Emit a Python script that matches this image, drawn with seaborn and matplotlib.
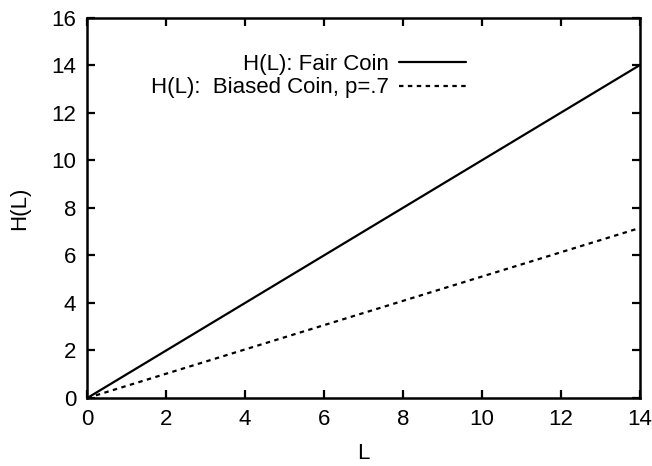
import matplotlib
matplotlib.use('Agg')
import matplotlib.pyplot as plt
import seaborn as sns
import pandas as pd

# values
L = [0, 14]
fair = [0, 14]
biased = [0, 7.15]
labels = ['H(L): Fair Coin', 'H(L):  Biased Coin, p=.7']

sns.set_style('ticks')
plt.rcParams['font.family'] = ['Liberation Sans', 'DejaVu Sans']
plt.rcParams['text.color'] = 'black'
plt.rcParams['axes.labelcolor'] = 'black'
plt.rcParams['xtick.color'] = 'black'
plt.rcParams['ytick.color'] = 'black'
plt.rcParams['axes.edgecolor'] = 'black'

df = pd.DataFrame({
    'L': L + L,
    'H': fair + biased,
    'series': [labels[0]] * len(L) + [labels[1]] * len(L),
})

fig, ax = plt.subplots(figsize=(6.52, 4.66), dpi=100)
sns.lineplot(data=df, x='L', y='H', hue='series', style='series',
             palette=['black', 'black'], dashes=[(None, None), (2, 2)],
             linewidth=1.6, ax=ax)

ax.set_xlim(0, 14)
ax.set_ylim(0, 16)
ax.set_xticks(range(0, 15, 2))
ax.set_yticks(range(0, 17, 2))
ax.set_xlabel('L', fontsize=16, labelpad=9)
ax.set_ylabel('H(L)', fontsize=16, labelpad=15)
ax.tick_params(direction='in', length=6, width=1.6, labelsize=16,
               top=True, right=True)
ax.tick_params(axis='x', pad=8)
ax.tick_params(axis='y', pad=8)
for s in ax.spines.values():
    s.set_linewidth(1.8)
    s.set_visible(True)

leg = ax.legend(loc='upper right', bbox_to_anchor=(0.685, 0.905), frameon=False,
                markerfirst=False, fontsize=16, handlelength=3.0,
                labelspacing=0.12, handletextpad=0.45, borderpad=0,
                borderaxespad=0, title=None)
for t in leg.get_texts():
    t.set_ha('right')
leg._legend_box.align = 'right'

fig.subplots_adjust(left=0.134, right=0.981, top=0.962, bottom=0.146)
fig.savefig('out.png')
